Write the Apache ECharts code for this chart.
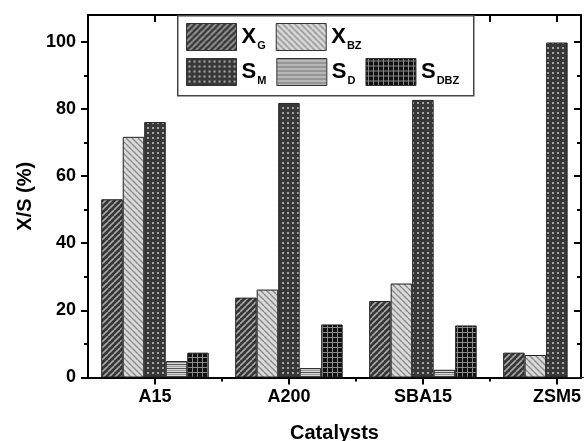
<!DOCTYPE html>
<html><head><meta charset="utf-8">
<script src="https://cdn.jsdelivr.net/npm/echarts@6/dist/echarts.min.js"></script>
<style>html,body{margin:0;padding:0;background:#fff}#c{width:584px;height:441px}</style>
</head><body><div id="c"></div>
<script>
const categories = ['A15', 'A200', 'SBA15', 'ZSM5'];
const catPositions = [1, 2, 3, 4];
const seriesNames = ['X_G', 'X_BZ', 'S_M', 'S_D', 'S_DBZ'];
const xG   = [53.1, 23.8, 22.8, 7.4];
const xBZ  = [71.7, 26.2, 28.0, 6.7];
const sM   = [76.1, 81.8, 82.7, 99.8];
const sD   = [4.9, 2.8, 2.3, 0];
const sDBZ = [7.4, 15.8, 15.5, 0];
const yTickValues = [0, 20, 40, 60, 80, 100];
const yMinorValues = [10, 30, 50, 70, 90];
const xMinorValues = [1.5, 2.5, 3.5];

const FONT = "'Liberation Sans', Arial, sans-serif";

function pat(w, h, draw) {
  const c = document.createElement('canvas');
  c.width = w; c.height = h;
  const g = c.getContext('2d');
  draw(g, w, h);
  return { image: c, repeat: 'repeat' };
}
function diag(g, w, h, dir, col, lw) {
  g.strokeStyle = col; g.lineWidth = lw;
  for (let k = -1; k <= 1; k++) {
    g.beginPath();
    if (dir > 0) { g.moveTo(k * w, h); g.lineTo(k * w + w, 0); }
    else { g.moveTo(k * w, 0); g.lineTo(k * w + w, h); }
    g.stroke();
  }
}
const patterns = [
  pat(6, 6, (g, w, h) => { g.fillStyle = '#353535'; g.fillRect(0, 0, w, h); diag(g, w, h, 1, '#a8a8a8', 1.6); }),
  pat(6, 6, (g, w, h) => { g.fillStyle = '#dadada'; g.fillRect(0, 0, w, h); diag(g, w, h, -1, '#8a8a8a', 1.4); }),
  pat(5, 5, (g, w, h) => { g.fillStyle = '#383838'; g.fillRect(0, 0, w, h); g.fillStyle = '#a5a5a5'; g.fillRect(2, 2, 2, 2); }),
  pat(4, 4, (g, w, h) => { g.fillStyle = '#d8d8d8'; g.fillRect(0, 0, w, h); g.fillStyle = '#555'; g.fillRect(0, 0, w, 1); g.fillStyle = '#999'; g.fillRect(0, 2, w, 1); }),
  pat(5, 5, (g, w, h) => { g.fillStyle = '#111'; g.fillRect(0, 0, w, h); g.fillStyle = '#8a8a8a'; g.fillRect(2, 0, 1, h); g.fillRect(0, 2, w, 1); })
];
const seriesData = [xG, xBZ, sM, sD, sDBZ];

const chart = echarts.init(document.getElementById('c'), null, { renderer: 'canvas' });

const lineStyle = { color: '#000', width: 2 };
const xMin = 0.5, xMax = 4.18, yMin = 0, yMax = 108;

function legendFmt(name) {
  const p = name.split('_');
  return '{b|' + p[0] + '}{s|' + p[1] + '}';
}
const legendBase = {
  left: 186, itemWidth: 50, itemHeight: 27, itemGap: 10, padding: 0,
  icon: 'rect', formatter: legendFmt, selectedMode: false,
  itemStyle: { borderColor: '#333', borderWidth: 1 },
  textStyle: {
    color: '#000', fontFamily: FONT, width: 24,
    rich: {
      b: { fontSize: 22, fontWeight: 'bold', fontFamily: FONT, color: '#000' },
      s: { fontSize: 11, fontWeight: 'bold', fontFamily: FONT, color: '#000', padding: [17, 0, 0, 1] }
    }
  }
};

chart.setOption({
  animation: false,
  backgroundColor: '#fff',
  grid: { left: 88, right: 3, top: 15, bottom: 63.5, containLabel: false, outerBoundsMode: 'none' },
  graphic: [{
    type: 'rect', left: 177, top: 15, z: 3,
    shape: { width: 296, height: 80 },
    style: { fill: '#fff', stroke: '#444', lineWidth: 1.5 }
  }],
  legend: [
    Object.assign({}, legendBase, { top: 23, data: seriesNames.slice(0, 2) }),
    Object.assign({}, legendBase, { top: 58, data: seriesNames.slice(2) })
  ],
  xAxis: [
    {
      type: 'value', position: 'bottom', min: xMin, max: xMax,
      axisLine: { show: true, onZero: false, lineStyle },
      axisTick: { show: true, customValues: catPositions, length: 7, lineStyle },
      axisLabel: {
        customValues: catPositions, formatter: v => categories[Math.round(v) - 1],
        fontSize: 18, fontWeight: 'bold', fontFamily: FONT, color: '#000', margin: 11,
        hideOverlap: false
      },
      splitLine: { show: false },
      name: 'Catalysts', nameLocation: 'middle', nameGap: 46,
      nameTextStyle: { fontSize: 20, fontWeight: 'bold', fontFamily: FONT, color: '#000' }
    },
    {
      type: 'value', position: 'top', min: xMin, max: xMax,
      axisLine: { show: true, onZero: false, lineStyle },
      axisTick: { show: true, inside: true, customValues: [1, 1.5, 2, 2.5, 3, 3.5, 4], length: 7, lineStyle },
      axisLabel: { show: false }, splitLine: { show: false }
    },
    {
      type: 'value', position: 'bottom', min: xMin, max: xMax,
      axisLine: { show: false },
      axisTick: { show: true, customValues: xMinorValues, length: 4, lineStyle },
      axisLabel: { show: false }, splitLine: { show: false }
    }
  ],
  yAxis: [
    {
      type: 'value', position: 'left', min: yMin, max: yMax,
      axisLine: { show: true, onZero: false, lineStyle },
      axisTick: { show: true, customValues: yTickValues, length: 7, lineStyle },
      axisLabel: { customValues: yTickValues, fontSize: 18, fontWeight: 'bold', fontFamily: FONT, color: '#000', margin: 12 },
      splitLine: { show: false },
      name: 'X/S (%)', nameLocation: 'middle', nameGap: 52, nameRotate: 90,
      nameTextStyle: { fontSize: 20, fontWeight: 'bold', fontFamily: FONT, color: '#000' }
    },
    {
      type: 'value', position: 'left', min: yMin, max: yMax,
      axisLine: { show: false },
      axisTick: { show: true, customValues: yMinorValues, length: 4, lineStyle },
      axisLabel: { show: false }, splitLine: { show: false }
    },
    {
      type: 'value', position: 'right', min: yMin, max: yMax,
      axisLine: { show: true, onZero: false, lineStyle },
      axisTick: { show: true, inside: true, customValues: yTickValues, length: 7, lineStyle },
      axisLabel: { show: false }, splitLine: { show: false }
    },
    {
      type: 'value', position: 'right', min: yMin, max: yMax,
      axisLine: { show: false },
      axisTick: { show: true, inside: true, customValues: yMinorValues, length: 4, lineStyle },
      axisLabel: { show: false }, splitLine: { show: false }
    }
  ],
  series: seriesNames.map((name, si) => ({
    name, type: 'bar', xAxisIndex: 0, yAxisIndex: 0,
    barWidth: 21.5, barGap: '0%',
    itemStyle: { color: patterns[si], borderColor: '#222', borderWidth: 1 },
    data: catPositions.map((p, i) => [p, seriesData[si][i]])
  }))
});
</script>
</body></html>
